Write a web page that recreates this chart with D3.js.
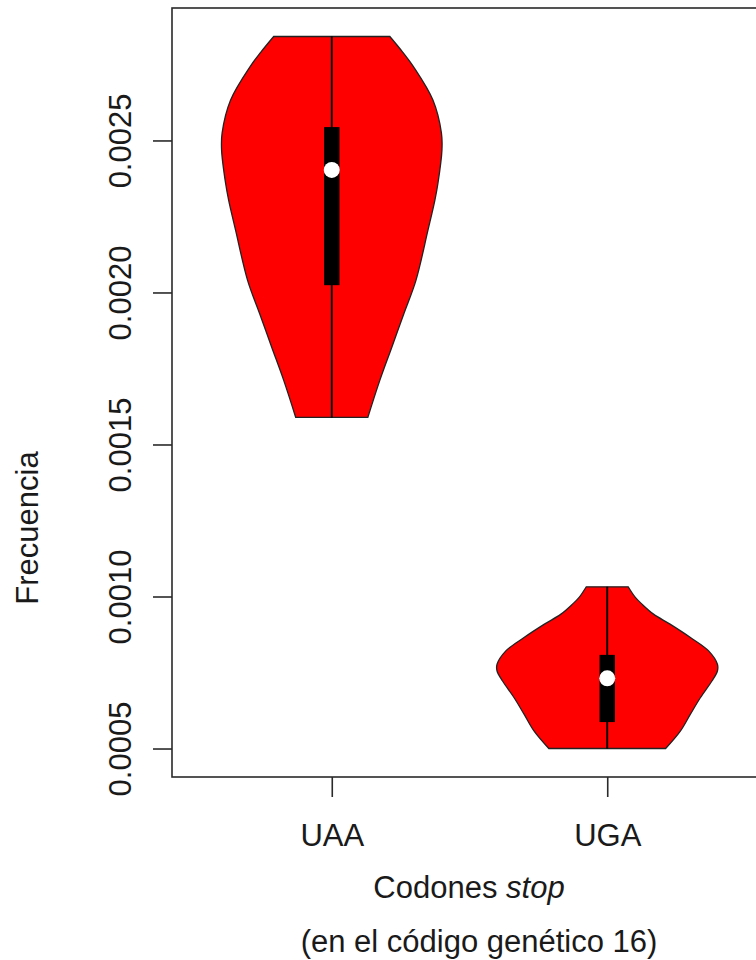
<!DOCTYPE html>
<html>
<head>
<meta charset="utf-8">
<script src="https://cdn.jsdelivr.net/npm/d3@7/dist/d3.min.js"></script>
<style>
  html, body { margin: 0; padding: 0; background: #fff; }
  svg { display: block; }
  text { font-family: "Liberation Sans", Arial, Helvetica, sans-serif; fill: #1a1a1a; }
</style>
</head>
<body>
<svg id="chart" width="756" height="960"></svg>
<script>
// Stop codon frequencies (genetic code 16)
const categories = ["UAA", "UGA"];
const mins    = [0.001589, 0.000500];
const q1s     = [0.002024, 0.000587];
const medians = [0.002403, 0.000731];
const q3s     = [0.002544, 0.000808];
const maxs    = [0.002842, 0.001032];

// Kernel density outlines: [frequency, relative density]
const densityUAA = [
  [0.002842, 0.527], [0.002790, 0.645], [0.002743, 0.741], [0.002633, 0.918],
  [0.002525, 0.995], [0.002469, 1.000], [0.002360, 0.964], [0.002304, 0.936],
  [0.002205, 0.873], [0.002040, 0.764], [0.001931, 0.655], [0.001820, 0.545],
  [0.001711, 0.436], [0.001589, 0.327]
];
const densityUGA = [
  [0.001032, 0.190], [0.000997, 0.255], [0.000975, 0.315], [0.000942, 0.420],
  [0.000909, 0.570], [0.000865, 0.755], [0.000821, 0.920], [0.000777, 1.000],
  [0.000755, 1.000], [0.000722, 0.950], [0.000667, 0.845], [0.000613, 0.755],
  [0.000558, 0.665], [0.000500, 0.530]
];
const densities = [densityUAA, densityUGA];

const yTicks = [0.0005, 0.0010, 0.0015, 0.0020, 0.0025];
const yTickLabels = ["0.0005", "0.0010", "0.0015", "0.0020", "0.0025"];

const xTitle = "Codones ";
const xTitleItalic = "stop";
const subTitle = "(en el código genético 16)";
const yTitle = "Frecuencia";

// Layout
const plot = { left: 172, top: 8, right: 767, bottom: 777 };
const violinHalf = 0.4;   // max half-width in category units
const boxHalf = 0.028;    // half-width of the IQR bar
const fontSize = 31;

const svg = d3.select("#chart");

// Scales with a 4% padding on both ranges
const xDom = [0.5, categories.length + 0.5];
const xPad = (xDom[1] - xDom[0]) * 0.04;
const x = d3.scaleLinear().domain([xDom[0] - xPad, xDom[1] + xPad]).range([plot.left, plot.right]);

const yLo = d3.min(mins), yHi = d3.max(maxs);
const yPad = (yHi - yLo) * 0.04;
const y = d3.scaleLinear().domain([yLo - yPad, yHi + yPad]).range([plot.bottom, plot.top]);

const plotG = svg.append("g");

// Violins
categories.forEach((cat, i) => {
  const cx = i + 1;
  const area = d3.area()
    .y(d => y(d[0]))
    .x0(d => x(cx - violinHalf * d[1]))
    .x1(d => x(cx + violinHalf * d[1]))
    .curve(d3.curveCatmullRom.alpha(0.5));

  plotG.append("path")
    .datum(densities[i])
    .attr("d", area)
    .attr("fill", "#ff0000")
    .attr("stroke", "#222")
    .attr("stroke-width", 1.3);

  // whisker line
  plotG.append("line")
    .attr("x1", x(cx)).attr("x2", x(cx))
    .attr("y1", y(mins[i])).attr("y2", y(maxs[i]))
    .attr("stroke", "#000")
    .attr("stroke-width", 1.9);

  // interquartile bar
  plotG.append("rect")
    .attr("x", x(cx - boxHalf))
    .attr("width", x(cx + boxHalf) - x(cx - boxHalf))
    .attr("y", y(q3s[i]))
    .attr("height", y(q1s[i]) - y(q3s[i]))
    .attr("fill", "#000");

  // median
  plotG.append("circle")
    .attr("cx", x(cx))
    .attr("cy", y(medians[i]))
    .attr("r", 8)
    .attr("fill", "#fff");
});

// Plot frame
svg.append("rect")
  .attr("x", plot.left).attr("y", plot.top)
  .attr("width", plot.right - plot.left)
  .attr("height", plot.bottom - plot.top)
  .attr("fill", "none")
  .attr("stroke", "#2a2a2a")
  .attr("stroke-width", 1.6);

// Y axis
const yAxis = d3.axisLeft(y)
  .tickValues(yTicks)
  .tickSize(19)
  .tickFormat((d, i) => yTickLabels[i]);

const yAxisG = svg.append("g")
  .attr("transform", `translate(${plot.left},0)`)
  .call(yAxis);
yAxisG.select(".domain").remove();
yAxisG.selectAll(".tick line").attr("stroke", "#2a2a2a").attr("stroke-width", 1.6);
yAxisG.selectAll(".tick text")
  .attr("transform", "rotate(-90)")
  .attr("x", 0)
  .attr("y", -41.5)
  .attr("dy", 0)
  .attr("text-anchor", "middle")
  .style("font-size", fontSize + "px")
  .style("font-family", "Liberation Sans, Arial, sans-serif")
  .attr("fill", "#1a1a1a");

// X axis
const xAxis = d3.axisBottom(x)
  .tickValues(categories.map((c, i) => i + 1))
  .tickSize(20)
  .tickFormat((d, i) => categories[i]);

const xAxisG = svg.append("g")
  .attr("transform", `translate(0,${plot.bottom})`)
  .call(xAxis);
xAxisG.select(".domain").remove();
xAxisG.selectAll(".tick line").attr("stroke", "#2a2a2a").attr("stroke-width", 1.6);
xAxisG.selectAll(".tick text")
  .attr("y", 69)
  .attr("dy", 0)
  .style("font-size", fontSize + "px")
  .style("font-family", "Liberation Sans, Arial, sans-serif")
  .attr("fill", "#1a1a1a");

// Axis titles
const xt = svg.append("text")
  .attr("x", 469).attr("y", 898)
  .attr("text-anchor", "middle")
  .style("font-size", fontSize + "px");
xt.append("tspan").text(xTitle).attr("xml:space", "preserve");
xt.append("tspan").text(xTitleItalic).style("font-style", "italic");

svg.append("text")
  .attr("x", 479).attr("y", 952)
  .attr("text-anchor", "middle")
  .style("font-size", fontSize + "px")
  .text(subTitle);

svg.append("text")
  .attr("transform", "translate(38,528) rotate(-90)")
  .attr("text-anchor", "middle")
  .style("font-size", fontSize + "px")
  .text(yTitle);
</script>
</body>
</html>
